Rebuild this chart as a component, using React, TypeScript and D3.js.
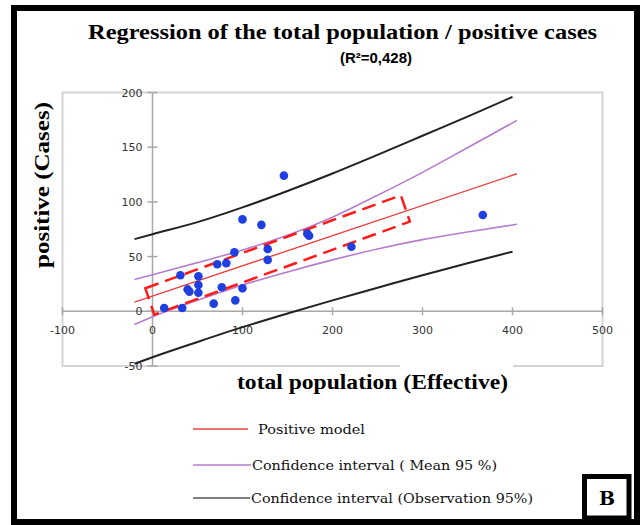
import React, { useEffect, useRef } from 'react';
import * as d3 from 'd3';

// observed points (total population, positive cases)
const popX = [146, 100, 121, 172, 174, 128, 128, 91, 82, 72, 31, 51, 51, 39, 41, 51, 77, 100, 68, 92, 13, 33, 367, 221];
const casesY = [124, 84, 79, 71, 69, 57, 47, 54, 44, 43, 33, 32, 24, 20, 18, 17, 22, 21, 7, 10, 3, 3, 88, 59];

// regression line ends
const modelX = [-20, 405];
const modelY = [8.4, 125.7];

// confidence bands
const meanX = [-20, 0, 50, 100, 150, 200, 250, 300, 350, 405];
const meanUpper = [29, 33.5, 44.5, 56, 69.5, 86, 106, 127, 149.5, 174.5];
const meanLower = [-12, -5, 10, 24, 36, 47, 57, 65.5, 72.5, 79.5];
const obsX = [-20, 0, 50, 100, 150, 200, 250, 300, 350, 400];
const obsUpper = [66, 70.5, 81.5, 95, 110, 126, 143, 160.5, 178, 196];
const obsLower = [-48, -42, -28, -14.5, -2, 10, 21.5, 33, 44, 54.5];

// dashed highlight box corners
const boxX = [-8, 276, 286, 2];
const boxY = [21, 106, 82, -3];

const xTicks = [-100, 0, 100, 200, 300, 400, 500];
const yTicks = [-50, 0, 50, 100, 150, 200];

const legendLabels = ['Positive model', 'Confidence interval ( Mean 95 %)', 'Confidence interval (Observation 95%)'];
const legendColors = ['#e8413f', '#b77ccc', '#555555'];

const W = 641, H = 525;

export default function App() {
    const ref = useRef<SVGSVGElement>(null);

    useEffect(() => {
        const svg = d3.select(ref.current);
        svg.selectAll('*').remove();

        const x = d3.scaleLinear().domain([-100, 500]).range([62.5, 602.5]);
        const y = d3.scaleLinear().domain([-50, 200]).range([366, 92.5]);

        svg.append('rect').attr('width', W).attr('height', H).attr('fill', '#fff');

        // outer frame
        svg.append('rect')
            .attr('x', 14).attr('y', 8).attr('width', 623).attr('height', 514)
            .attr('fill', 'none').attr('stroke', '#000').attr('stroke-width', 6);

        // title
        svg.append('text')
            .attr('x', 88).attr('y', 39)
            .attr('textLength', 509).attr('lengthAdjust', 'spacingAndGlyphs')
            .style('font-family', '"Liberation Serif", serif')
            .style('font-weight', 'bold').style('font-size', '22px')
            .text('Regression of the total population / positive cases');
        svg.append('text')
            .attr('x', 340).attr('y', 63)
            .attr('textLength', 72).attr('lengthAdjust', 'spacingAndGlyphs')
            .style('font-family', '"Liberation Sans", Arial, sans-serif')
            .style('font-weight', 'bold').style('font-size', '14px')
            .text('(R²=0,428)');

        // plot area border
        svg.append('rect')
            .attr('x', x(-100)).attr('y', y(200))
            .attr('width', x(500) - x(-100)).attr('height', y(-50) - y(200))
            .attr('fill', 'none').attr('stroke', '#d4d4d4').attr('stroke-width', 2);

        // axes through origin
        const axG = svg.append('g').attr('stroke', '#a8a8a8').attr('stroke-width', 1.5);
        axG.append('line').attr('x1', x(-100)).attr('x2', x(500)).attr('y1', y(0)).attr('y2', y(0));
        axG.append('line').attr('x1', x(0)).attr('x2', x(0)).attr('y1', y(200)).attr('y2', y(-50));
        axG.selectAll('.xt').data(xTicks).join('line')
            .attr('x1', d => x(d)).attr('x2', d => x(d))
            .attr('y1', y(0) - 4).attr('y2', y(0) + 4);
        axG.selectAll('.yt').data(yTicks).join('line')
            .attr('x1', x(0) - 5).attr('x2', x(0) + 5)
            .attr('y1', d => y(d)).attr('y2', d => y(d));

        const tickFont = (s: any) => s
            .style('font-family', '"DejaVu Sans", Verdana, sans-serif')
            .style('font-size', '11px').attr('fill', '#333');

        svg.append('g').selectAll('text').data(xTicks).join('text')
            .attr('x', d => x(d)).attr('y', y(0) + 23)
            .attr('text-anchor', 'middle')
            .call(tickFont)
            .text(d => String(d));
        svg.append('g').selectAll('text').data(yTicks).join('text')
            .attr('x', x(0) - 10).attr('y', d => y(d) + 4)
            .attr('text-anchor', 'end')
            .call(tickFont)
            .text(d => String(d));

        // axis titles
        svg.append('rect').attr('x', 400).attr('y', 363).attr('width', 113).attr('height', 30).attr('fill', '#fff');
        svg.append('text')
            .attr('x', 237).attr('y', 389)
            .attr('textLength', 271).attr('lengthAdjust', 'spacingAndGlyphs')
            .style('font-family', '"Liberation Serif", serif')
            .style('font-weight', 'bold').style('font-size', '21px')
            .text('total population (Effective)');
        svg.append('text')
            .attr('transform', 'translate(49,268) rotate(-90)')
            .attr('textLength', 166).attr('lengthAdjust', 'spacingAndGlyphs')
            .style('font-family', '"Liberation Serif", serif')
            .style('font-weight', 'bold').style('font-size', '21px')
            .text('positive  (Cases)');

        const curve = (xs: number[], ys: number[]) =>
            d3.line<number>().x(i => x(xs[i])).y(i => y(ys[i])).curve(d3.curveMonotoneX)(d3.range(xs.length));

        // bands
        [obsUpper, obsLower].forEach(v => {
            svg.append('path').attr('d', curve(obsX, v)).attr('fill', 'none')
                .attr('stroke', '#222').attr('stroke-width', 2);
        });
        [meanUpper, meanLower].forEach(v => {
            svg.append('path').attr('d', curve(meanX, v)).attr('fill', 'none')
                .attr('stroke', '#b77ccc').attr('stroke-width', 1.6);
        });
        svg.append('path').attr('d', curve(modelX, modelY)).attr('fill', 'none')
            .attr('stroke', '#e8413f').attr('stroke-width', 1.4);

        // dashed highlight
        svg.append('path')
            .attr('d', d3.line<number>().x(i => x(boxX[i])).y(i => y(boxY[i])).curve(d3.curveLinearClosed)(d3.range(boxX.length)))
            .attr('fill', 'none').attr('stroke', '#ff1a1a').attr('stroke-width', 2.5)
            .attr('stroke-dasharray', '14,7');

        // points
        svg.append('g').selectAll('circle').data(d3.range(popX.length)).join('circle')
            .attr('cx', i => x(popX[i])).attr('cy', i => y(casesY[i])).attr('r', 4.3)
            .attr('fill', '#1f3fe0');

        // legend
        const lg = svg.append('g');
        const rows = [429, 465, 498];
        const lineEnds = [248, 251, 250];
        const textX = [258, 252, 251];
        const textW = [107, 245, 282];
        legendLabels.forEach((lab, i) => {
            lg.append('line').attr('x1', 193).attr('x2', lineEnds[i]).attr('y1', rows[i]).attr('y2', rows[i])
                .attr('stroke', legendColors[i]).attr('stroke-width', 1.6);
            lg.append('text').attr('x', textX[i]).attr('y', rows[i] + 5)
                .attr('textLength', textW[i]).attr('lengthAdjust', 'spacingAndGlyphs')
                .style('font-family', '"DejaVu Serif", serif').style('font-size', '13.5px')
                .attr('fill', '#111')
                .text(lab);
        });

        // panel letter
        svg.append('rect').attr('x', 584.5).attr('y', 476.5).attr('width', 44.5).attr('height', 41.5)
            .attr('fill', '#fff').attr('stroke', '#000').attr('stroke-width', 5);
        svg.append('text').attr('x', 607).attr('y', 505).attr('text-anchor', 'middle')
            .style('font-family', '"DejaVu Serif", serif').style('font-weight', 'bold').style('font-size', '19px')
            .text('B');
    }, []);

    return <svg ref={ref} width={W} height={H} style={{ position: 'absolute', left: 0, top: 0 }} />;
}
